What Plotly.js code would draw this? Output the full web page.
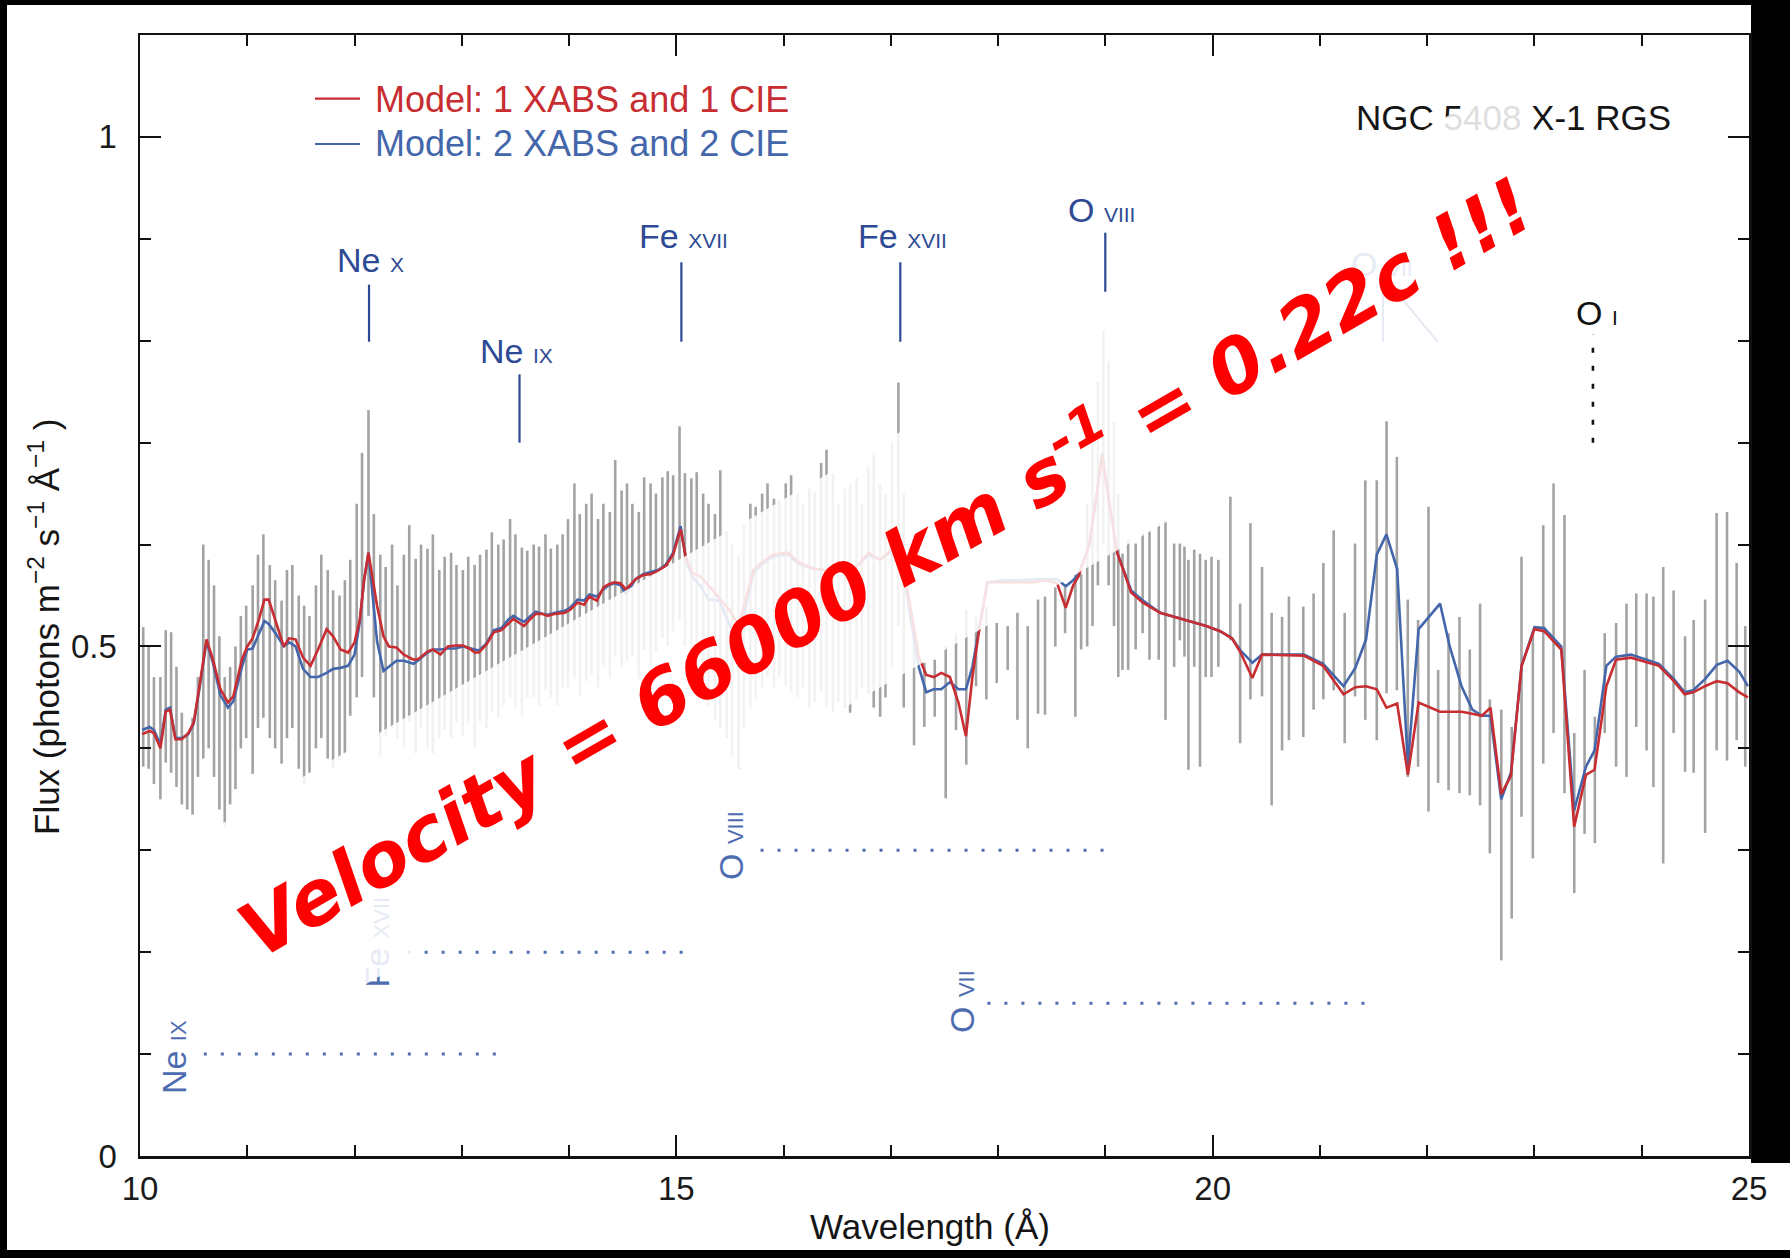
<!DOCTYPE html>
<html>
<head>
<meta charset="utf-8">
<script src="https://cdn.plot.ly/plotly-3.0.1.min.js"></script>
<style>
  html, body { margin: 0; padding: 0; background: #000; }
  #chart { width: 1790px; height: 1258px; }
</style>
</head>
<body>
<div id="chart"></div>
<script>
// ---- RGS spectrum bins: wavelength (Å), upper and lower end of each error bar ----
const binWave = [
  10.03,10.08,10.13,10.19,10.24,10.29,10.34,10.39,10.44,10.49,10.54,10.59,10.64,10.69,10.74,10.79,10.84,10.89,10.94,10.99,
  11.05,11.10,11.15,11.21,11.26,11.32,11.37,11.42,11.48,11.53,11.58,11.64,11.69,11.75,11.80,11.86,11.91,11.96,
  12.02,12.07,12.13,12.18,12.24,12.29,12.35,12.40,12.46,12.51,12.57,12.62,12.68,12.73,12.79,12.84,12.90,12.95,
  13.01,13.06,13.12,13.17,13.23,13.28,13.34,13.39,13.45,13.50,13.56,13.61,13.67,13.72,13.78,13.83,13.89,13.94,13.99,
  14.05,14.10,14.16,14.21,14.27,14.32,14.38,14.43,14.49,14.54,14.59,14.65,14.70,14.76,14.81,14.87,14.92,14.97,
  15.03,15.08,15.14,15.19,15.25,15.30,15.36,15.41,15.47,15.52,15.58,15.63,15.69,15.74,15.80,15.85,15.91,15.96,
  16.02,16.07,16.13,16.18,16.24,16.29,16.35,16.40,16.46,16.51,16.57,16.62,16.68,16.73,16.79,16.84,16.90,16.95,
  17.01,17.07,17.12,
  17.216,17.312,17.409,17.511,17.607,17.703,17.794,17.890,17.987,18.089,18.180,18.276,18.372,18.437,18.533,18.624,18.720,18.774,
  18.83,18.88,18.93,18.98,19.03,19.08,19.12,
  19.159,19.212,19.282,19.347,19.411,19.497,19.560,19.641,19.694,19.737,19.774,19.828,19.882,19.935,19.989,20.053,20.165,20.256,20.352,20.460,
  20.550,20.647,20.711,20.845,20.941,21.032,21.128,21.231,21.327,21.423,21.530,21.621,21.717,21.819,21.915,22.012,22.102,22.199,22.301,22.397,
  22.493,22.584,22.691,22.788,22.879,22.985,23.082,23.178,23.280,23.371,23.467,23.563,23.655,23.761,23.858,23.949,24.045,24.109,24.200,24.297,
  24.404,24.484,24.591,24.698,24.795,24.885,24.965];
const binHigh = [
  0.519,0.500,0.470,0.470,0.516,0.514,0.480,0.435,0.415,0.430,0.470,0.600,0.585,0.560,0.510,0.470,0.480,0.500,0.530,0.540,
  0.560,0.590,0.610,0.580,0.565,0.545,0.575,0.580,0.550,0.540,0.530,0.560,0.590,0.575,0.555,0.550,0.565,0.585,
  0.640,0.690,0.732,0.630,0.590,0.578,0.600,0.560,0.590,0.619,0.586,0.600,0.596,0.610,0.575,0.588,0.592,0.580,
  0.575,0.588,0.580,0.590,0.595,0.612,0.600,0.605,0.625,0.610,0.597,0.594,0.600,0.598,0.610,0.596,0.600,0.610,0.625,
  0.660,0.630,0.640,0.650,0.625,0.640,0.632,0.683,0.653,0.660,0.640,0.632,0.666,0.660,0.650,0.666,0.672,0.668,
  0.716,0.670,0.665,0.671,0.650,0.640,0.630,0.673,0.612,0.600,0.590,0.620,0.640,0.637,0.650,0.660,0.645,0.642,
  0.660,0.668,0.650,0.640,0.655,0.652,0.680,0.693,0.670,0.640,0.655,0.660,0.665,0.640,0.676,0.690,0.660,0.650,
  0.700,0.759,0.650,
  0.513,0.484,0.487,0.500,0.513,0.536,0.529,0.539,0.523,0.520,0.533,0.520,0.546,0.549,0.558,0.558,0.571,0.571,
  0.640,0.700,0.760,0.810,0.780,0.720,0.650,
  0.591,0.605,0.601,0.611,0.614,0.621,0.624,0.601,0.601,0.598,0.585,0.595,0.591,0.585,0.588,0.585,0.647,0.542,0.621,0.578,
  0.533,0.529,0.549,0.539,0.552,0.582,0.614,0.533,0.601,0.663,0.663,0.721,0.686,0.546,0.526,0.637,0.477,0.513,0.529,0.497,
  0.542,0.448,0.438,0.421,0.588,0.513,0.619,0.660,0.629,0.415,0.477,0.431,0.513,0.523,0.542,0.552,0.552,0.549,0.578,0.555,
  0.510,0.526,0.546,0.631,0.632,0.582,0.520];
const binLow = [
  0.382,0.380,0.365,0.350,0.386,0.376,0.362,0.345,0.340,0.335,0.372,0.390,0.400,0.372,0.340,0.323,0.345,0.360,0.400,0.410,
  0.375,0.420,0.430,0.410,0.400,0.385,0.410,0.420,0.380,0.365,0.376,0.400,0.410,0.390,0.380,0.388,0.395,0.432,
  0.450,0.470,0.530,0.450,0.392,0.412,0.420,0.410,0.400,0.426,0.395,0.420,0.400,0.395,0.410,0.418,0.410,0.426,
  0.412,0.424,0.400,0.426,0.420,0.436,0.430,0.442,0.450,0.440,0.432,0.450,0.450,0.442,0.458,0.450,0.442,0.460,0.458,
  0.468,0.452,0.466,0.472,0.460,0.480,0.470,0.490,0.480,0.485,0.490,0.468,0.496,0.482,0.495,0.508,0.500,0.515,
  0.525,0.500,0.480,0.460,0.450,0.442,0.428,0.420,0.410,0.392,0.380,0.420,0.440,0.448,0.460,0.470,0.460,0.470,
  0.462,0.455,0.450,0.460,0.440,0.445,0.455,0.440,0.435,0.445,0.440,0.435,0.448,0.460,0.454,0.440,0.431,0.450,
  0.480,0.520,0.440,
  0.403,0.421,0.431,0.351,0.418,0.384,0.461,0.448,0.464,0.477,0.428,0.400,0.434,0.433,0.500,0.513,0.431,0.497,
  0.500,0.520,0.560,0.600,0.560,0.520,0.470,
  0.477,0.477,0.497,0.513,0.487,0.487,0.428,0.480,0.506,0.490,0.379,0.480,0.382,0.470,0.470,0.480,0.506,0.405,0.448,0.451,
  0.344,0.398,0.408,0.411,0.438,0.448,0.457,0.405,0.451,0.428,0.408,0.454,0.457,0.372,0.382,0.338,0.366,0.359,0.356,0.354,
  0.344,0.297,0.192,0.233,0.333,0.292,0.385,0.415,0.356,0.258,0.316,0.307,0.415,0.382,0.372,0.421,0.398,0.362,0.287,0.415,
  0.377,0.376,0.317,0.398,0.388,0.408,0.382];

// ---- Best-fit models ----
const modelWave = [10.02,10.09,10.13,10.19,10.24,10.28,10.33,10.39,10.45,10.50,10.55,10.62,10.68,10.75,10.82,10.87,10.95,11.00,11.05,11.11,
  11.16,11.20,11.27,11.34,11.39,11.45,11.52,11.59,11.66,11.74,11.80,11.87,11.94,12.00,12.05,12.09,12.13,12.21,12.27,12.32,12.39,12.46,12.55,
  12.60,12.68,12.73,12.80,12.87,12.94,13.01,13.07,13.12,13.16,13.23,13.30,13.37,13.43,13.48,13.51,13.58,13.64,13.69,13.75,13.80,13.87,13.96,
  14.01,14.08,14.14,14.19,14.26,14.32,14.37,14.42,14.48,14.53,14.62,14.69,14.76,14.83,14.90,14.97,15.04,15.09,15.15,15.22,15.30,15.40,15.50,
  15.58,15.65,15.72,15.79,15.90,16.04,16.15,16.29,16.45,16.61,16.70,16.79,16.90,17.04,17.10,17.18,17.26,17.33,17.40,17.47,17.55,17.63,17.70,
  17.76,17.82,17.90,18.05,18.20,18.33,18.45,18.55,18.63,18.70,18.75,18.85,18.92,18.97,19.03,19.11,19.24,19.35,19.51,19.72,19.94,20.07,20.18,
  20.26,20.37,20.46,20.74,20.85,21.03,21.22,21.33,21.43,21.53,21.62,21.72,21.82,21.92,22.12,22.21,22.32,22.42,22.51,22.59,22.69,22.78,22.88,
  23.00,23.09,23.25,23.37,23.48,23.56,23.67,23.76,23.90,24.06,24.16,24.30,24.40,24.48,24.59,24.70,24.80,24.91,24.99];
// Model: 1 XABS and 1 CIE
const modelOne = [0.414,0.417,0.415,0.400,0.436,0.438,0.409,0.409,0.415,0.425,0.458,0.507,0.487,0.458,0.445,0.451,0.487,0.500,0.508,0.527,
  0.546,0.546,0.523,0.500,0.508,0.507,0.489,0.481,0.497,0.517,0.510,0.497,0.494,0.504,0.527,0.566,0.592,0.540,0.510,0.500,0.499,0.492,0.487,
  0.488,0.495,0.497,0.492,0.500,0.501,0.501,0.498,0.494,0.494,0.502,0.514,0.516,0.522,0.527,0.525,0.520,0.527,0.532,0.532,0.530,0.532,0.533,
  0.536,0.543,0.541,0.549,0.545,0.558,0.561,0.563,0.562,0.556,0.566,0.570,0.571,0.574,0.579,0.590,0.615,0.587,0.572,0.569,0.560,0.548,0.535,
  0.520,0.548,0.575,0.582,0.590,0.592,0.582,0.576,0.574,0.573,0.580,0.592,0.585,0.598,0.588,0.540,0.490,0.472,0.470,0.474,0.470,0.445,0.412,
  0.470,0.514,0.563,0.563,0.563,0.563,0.565,0.562,0.538,0.560,0.569,0.600,0.650,0.687,0.645,0.592,0.553,0.543,0.533,0.527,0.520,0.515,0.508,
  0.494,0.469,0.492,0.491,0.491,0.481,0.453,0.460,0.461,0.458,0.440,0.444,0.374,0.445,0.436,0.436,0.436,0.434,0.432,0.440,0.355,0.373,0.481,
  0.517,0.515,0.497,0.323,0.374,0.379,0.461,0.487,0.489,0.484,0.481,0.466,0.453,0.455,0.461,0.466,0.464,0.455,0.450];
// Model: 2 XABS and 2 CIE
const modelTwo = [0.418,0.421,0.418,0.404,0.438,0.440,0.410,0.410,0.414,0.424,0.456,0.505,0.484,0.452,0.440,0.446,0.480,0.497,0.498,0.512,
  0.525,0.522,0.512,0.500,0.504,0.500,0.478,0.470,0.470,0.474,0.478,0.479,0.481,0.492,0.525,0.566,0.592,0.505,0.476,0.480,0.486,0.486,0.483,
  0.487,0.494,0.497,0.497,0.498,0.498,0.500,0.498,0.497,0.496,0.503,0.516,0.518,0.526,0.530,0.528,0.524,0.530,0.534,0.532,0.531,0.533,0.535,
  0.538,0.546,0.545,0.551,0.549,0.556,0.560,0.562,0.560,0.552,0.566,0.571,0.573,0.575,0.580,0.592,0.618,0.585,0.568,0.560,0.546,0.545,0.520,
  0.505,0.540,0.572,0.580,0.588,0.590,0.580,0.576,0.574,0.573,0.580,0.590,0.585,0.596,0.585,0.530,0.480,0.455,0.458,0.458,0.465,0.458,0.458,
  0.480,0.514,0.563,0.565,0.565,0.566,0.566,0.566,0.559,0.565,0.571,0.600,0.650,0.690,0.645,0.592,0.555,0.545,0.533,0.527,0.520,0.515,0.508,
  0.496,0.484,0.492,0.492,0.492,0.483,0.461,0.479,0.507,0.590,0.610,0.576,0.384,0.517,0.542,0.500,0.461,0.438,0.432,0.432,0.350,0.376,0.481,
  0.519,0.518,0.500,0.339,0.382,0.398,0.481,0.490,0.492,0.486,0.483,0.468,0.455,0.457,0.468,0.482,0.486,0.475,0.461];

// ---- Line identifications ----
// emission lines marked above the spectrum
const topIonName = ['Ne', 'Ne', 'Fe', 'Fe', 'O'];
const topIonStage = ['X', 'IX', 'XVII', 'XVII', 'VIII'];
const topIonWave = [12.135, 13.538, 15.047, 17.088, 18.999];
const topIonTickLow = [0.799, 0.700, 0.799, 0.799, 0.848];
const topIonTickHigh = [0.855, 0.767, 0.877, 0.877, 0.906];
// absorption features: ion and blueshift span
const absIonName = ['Ne', 'Fe', 'O', 'O'];
const absIonStage = ['IX', 'XVII', 'VIII', 'VII'];
const absLevel = [0.10, 0.20, 0.30, 0.15];
const absFrom = [10.595, 12.495, 15.785, 17.900];
const absTo = [13.347, 15.090, 19.024, 21.457];
// neutral oxygen edge
const oxygenEdgeWave = 23.545;
const oxygenEdgeSpan = [0.700, 0.806];

// ---- Page geometry ----
const FIG_W = 1790, FIG_H = 1258;
const M = { l: 140, r: 41, t: 35, b: 102 };
const PW = FIG_W - M.l - M.r, PH = FIG_H - M.t - M.b;
const px2x = p => (p - M.l) / PW;
const py2y = p => (FIG_H - M.b - p) / PH;

const RED = 'rgb(200,45,50)';
const BLUE = 'rgb(68,102,170)';
const ION = 'rgb(46,74,148)';
const ION_LIGHT = 'rgb(78,108,176)';
const BAR = 'rgb(163,163,163)';
const FONT = 'Liberation Sans, Arial, sans-serif';

const barMid = binWave.map((_, i) => (binHigh[i] + binLow[i]) / 2);
const barErr = binWave.map((_, i) => (binHigh[i] - binLow[i]) / 2);

const traces = [
  {
    x: binWave, y: barMid, type: 'scatter', mode: 'markers',
    marker: { size: 1, color: 'rgba(0,0,0,0)' },
    error_y: { type: 'data', array: barErr, visible: true, color: BAR, thickness: 2.6, width: 0 },
    hoverinfo: 'skip', showlegend: false
  },
  {
    x: modelWave, y: modelTwo, type: 'scatter', mode: 'lines',
    line: { color: BLUE, width: 2.6 }, name: 'Model: 2 XABS and 2 CIE', showlegend: false
  },
  {
    x: modelWave, y: modelOne, type: 'scatter', mode: 'lines',
    line: { color: RED, width: 2.6 }, name: 'Model: 1 XABS and 1 CIE', showlegend: false
  }
];

const shapes = [];
const annotations = [];

// white page inside the black frame
shapes.push({
  type: 'rect', xref: 'paper', yref: 'paper', layer: 'below',
  x0: px2x(7), x1: px2x(1751), y0: py2y(1250), y1: py2y(5),
  fillcolor: '#fff', line: { width: 0 }
});
shapes.push({
  type: 'rect', xref: 'paper', yref: 'paper', layer: 'below',
  x0: px2x(1740), x1: px2x(1790), y0: py2y(1250), y1: py2y(1163),
  fillcolor: '#fff', line: { width: 0 }
});

// legend
const legendRows = [
  { text: 'Model: 1 XABS and 1 CIE', color: RED, yLine: 98.7, yText: 99.5 },
  { text: 'Model: 2 XABS and 2 CIE', color: BLUE, yLine: 144, yText: 143 }
];
legendRows.forEach(r => {
  shapes.push({ type: 'line', xref: 'paper', yref: 'paper', x0: px2x(315), x1: px2x(360),
    y0: py2y(r.yLine), y1: py2y(r.yLine), line: { color: r.color, width: 2.2 } });
  annotations.push({ xref: 'paper', yref: 'paper', x: px2x(374), y: py2y(r.yText), xanchor: 'left', yanchor: 'middle',
    text: r.text, showarrow: false, borderpad: 0, font: { family: FONT, size: 36, color: r.color } });
});

// emission-line markers
const topLabelPos = [[370, 260], [516, 351], [683, 236], [902, 236], [1101, 210]];
topIonWave.forEach((w, i) => {
  shapes.push({ type: 'line', xref: 'x', yref: 'y', x0: w, x1: w, y0: topIonTickLow[i], y1: topIonTickHigh[i],
    line: { color: ION, width: 2.2 } });
  annotations.push({ xref: 'paper', yref: 'paper', x: px2x(topLabelPos[i][0]), y: py2y(topLabelPos[i][1]),
    xanchor: 'center', yanchor: 'middle', showarrow: false, borderpad: 0,
    text: topIonName[i] + ' <span style="font-size:21px">' + topIonStage[i] + '</span>',
    font: { family: FONT, size: 34, color: ION } });
});

// O I edge
shapes.push({ type: 'line', xref: 'x', yref: 'y', x0: oxygenEdgeWave, x1: oxygenEdgeWave,
  y0: oxygenEdgeSpan[0], y1: oxygenEdgeSpan[1], line: { color: '#111', width: 2.6, dash: '5px,13px' } });
annotations.push({ xref: 'paper', yref: 'paper', x: px2x(1597), y: py2y(313), xanchor: 'center', yanchor: 'middle',
  showarrow: false, borderpad: 0, text: 'O <span style="font-size:21px">I</span>',
  font: { family: FONT, size: 34, color: '#111' } });

// blueshifted absorption spans
const absLabelPos = [[173.6, 1057.5], [377, 942.5], [731, 846], [961.5, 1001.5]];
absLevel.forEach((lv, i) => {
  shapes.push({ type: 'line', xref: 'x', yref: 'y', x0: absFrom[i], x1: absTo[i], y0: lv, y1: lv,
    line: { color: ION_LIGHT, width: 3, dash: '3px,14px' } });
  annotations.push({ xref: 'paper', yref: 'paper', x: px2x(absLabelPos[i][0]), y: py2y(absLabelPos[i][1]),
    xanchor: 'center', yanchor: 'middle', textangle: -90, showarrow: false, borderpad: 0,
    text: absIonName[i] + ' <span style="font-size:22px">' + absIonStage[i] + '</span>',
    font: { family: FONT, size: 34, color: ION_LIGHT } });
});

// O VII triplet marker
shapes.push({ type: 'line', xref: 'paper', yref: 'paper', x0: px2x(1383), x1: px2x(1383), y0: py2y(277), y1: py2y(342),
  line: { color: ION_LIGHT, width: 2 } });
shapes.push({ type: 'line', xref: 'paper', yref: 'paper', x0: px2x(1403), x1: px2x(1438), y0: py2y(300), y1: py2y(342),
  line: { color: ION_LIGHT, width: 2 } });
annotations.push({ xref: 'paper', yref: 'paper', x: px2x(1382), y: py2y(264), xanchor: 'center', yanchor: 'middle',
  showarrow: false, borderpad: 0, text: 'O <span style="font-size:21px">VII</span>',
  font: { family: FONT, size: 34, color: ION_LIGHT } });

// source name
annotations.push({ xref: 'paper', yref: 'paper', x: px2x(1355), y: py2y(118), xanchor: 'left', yanchor: 'middle',
  showarrow: false, borderpad: 0, text: 'NGC 5408 X-1 RGS', font: { family: FONT, size: 35, color: '#151515' } });

// axis titles
annotations.push({ xref: 'paper', yref: 'paper', x: px2x(930), y: py2y(1226), xanchor: 'center', yanchor: 'middle',
  showarrow: false, borderpad: 0, text: 'Wavelength (Å)', font: { family: FONT, size: 35, color: '#151515' } });
annotations.push({ xref: 'paper', yref: 'paper', x: px2x(44), y: py2y(627), xanchor: 'center', yanchor: 'middle',
  textangle: -90, showarrow: false, borderpad: 0,
  text: 'Flux (photons m<sup>−2</sup> s<sup>−1</sup> Å<sup>−1</sup> )', font: { family: FONT, size: 35, color: '#151515' } });

// translucent banner carrying the outflow velocity (trailing space nudges the words back along the banner)
const bannerCenter = [894.7, 556.7];
annotations.push({ xref: 'paper', yref: 'paper', x: px2x(bannerCenter[0]), y: py2y(bannerCenter[1]),
  xanchor: 'center', yanchor: 'middle', textangle: -30, showarrow: false, borderpad: 0,
  width: 1535, height: 210, bgcolor: 'rgba(255,255,255,0.86)',
  text: 'Velocity = 66000 km s<sup>-1</sup> = 0.22c !!!&nbsp;',
  font: { family: 'DejaVu Sans', size: 75.5, color: '#ff0000', weight: 'bold', style: 'italic' } });

const axisCommon = {
  showline: true, linecolor: '#111', linewidth: 2.5, mirror: 'ticks',
  ticks: 'inside', ticklen: 21, tickwidth: 2, tickcolor: '#111',
  showgrid: false, zeroline: false,
  tickfont: { family: FONT, size: 33, color: '#1a1a1a' }
};

const layout = {
  width: FIG_W, height: FIG_H,
  margin: M,
  paper_bgcolor: '#000', plot_bgcolor: '#fff',
  showlegend: false,
  xaxis: Object.assign({}, axisCommon, {
    range: [10, 25], tick0: 10, dtick: 5, ticklabelstandoff: 2,
    minor: { dtick: 1, ticks: 'inside', ticklen: 11, tickwidth: 2, tickcolor: '#111' }
  }),
  yaxis: Object.assign({}, axisCommon, {
    range: [0, 1.1], tick0: 0, dtick: 0.5, ticklabelstandoff: 14,
    minor: { dtick: 0.1, ticks: 'inside', ticklen: 11, tickwidth: 2, tickcolor: '#111' }
  }),
  shapes: shapes,
  annotations: annotations
};

Plotly.newPlot('chart', traces, layout, { displayModeBar: false, staticPlot: true });
</script>
</body>
</html>
